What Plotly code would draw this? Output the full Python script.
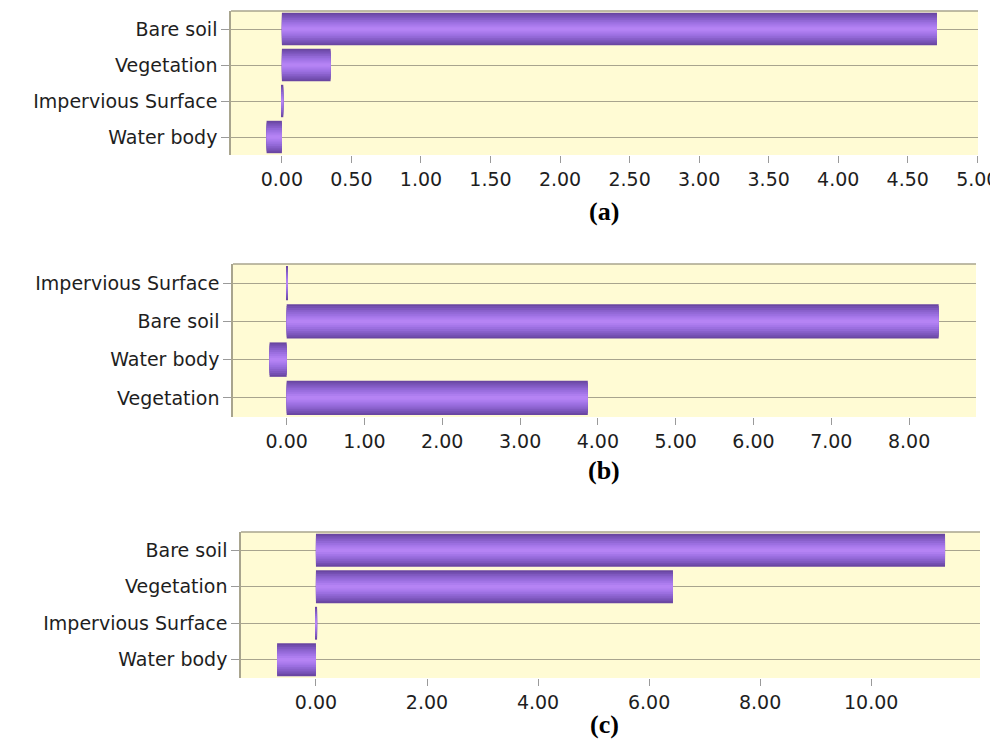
import plotly.graph_objects as go

W, H = 990, 741

# Panel (a)
cats_a = ["Bare soil", "Vegetation", "Impervious Surface", "Water body"]
vals_a = [4.71, 0.35, 0.01, -0.11]
ticks_a = [0.0, 0.5, 1.0, 1.5, 2.0, 2.5, 3.0, 3.5, 4.0, 4.5, 5.0]

# Panel (b)
cats_b = ["Impervious Surface", "Bare soil", "Water body", "Vegetation"]
vals_b = [0.01, 8.38, -0.22, 3.87]
ticks_b = [0, 1, 2, 3, 4, 5, 6, 7, 8]

# Panel (c)
cats_c = ["Bare soil", "Vegetation", "Impervious Surface", "Water body"]
vals_c = [11.33, 6.43, 0.02, -0.70]
ticks_c = [0, 2, 4, 6, 8, 10]

panel_labels = ["(a)", "(b)", "(c)"]

BG = "#FFFBD4"
GRID = "#A8A48E"
TXT = "#1E1E1E"
FONT = "DejaVu Sans"
FS = 19

# cylinder-like shading: stacked bands from dark edge to light core
bands = [(0.90, "#6A46A2"), (0.80, "#7550B2"), (0.70, "#7F58BF"),
         (0.60, "#8960CB"), (0.50, "#9268D6"), (0.40, "#9B6FE0"),
         (0.30, "#A476E8"), (0.20, "#AD7DEF"), (0.10, "#B583F4")]

# pixel boxes of each plot area: (left, right, top, bottom)
boxes = [(231, 978, 11, 155), (233, 976, 264, 417), (241, 980, 532, 678)]
xranges = [[-0.366, 5.005], [-0.69, 8.86], [-1.35, 11.96]]
label_y = [211, 470, 724]

panels = [(cats_a, vals_a, ticks_a), (cats_b, vals_b, ticks_b), (cats_c, vals_c, ticks_c)]

fig = go.Figure()
layout = {}
shapes = []
annotations = []

for i, ((cats, vals, ticks), (l, r, t, b), xr) in enumerate(zip(panels, boxes, xranges)):
    n = "" if i == 0 else str(i + 1)
    xa, ya = "x" + n, "y" + n
    for w, col in bands:
        fig.add_trace(go.Bar(
            x=vals, y=cats, orientation="h", width=w,
            marker=dict(color=col, line=dict(width=0)),
            xaxis=xa, yaxis=ya, showlegend=False, hoverinfo="x+y",
        ))
    layout["xaxis" + n] = dict(
        domain=[l / W, r / W], anchor=ya, range=xr, automargin=False,
        tickmode="array", tickvals=ticks,
        ticktext=["%.2f" % v for v in ticks],
        ticks="outside", ticklen=7, tickcolor="#9A9A9A", tickwidth=1,
        ticklabeloverflow="allow",
        showgrid=False, zeroline=False, showline=False,
        tickfont=dict(family=FONT, size=FS, color=TXT),
    )
    layout["yaxis" + n] = dict(
        domain=[1 - b / H, 1 - t / H], anchor=xa, automargin=False,
        type="category", categoryorder="array", categoryarray=cats,
        autorange=False, range=[3.5, -0.5],
        ticks="outside", ticklen=8, tickcolor="#9A9A9A", tickwidth=1,
        showgrid=True, gridcolor=GRID, gridwidth=1.2,
        showline=True, linecolor=GRID, linewidth=1.5,
        zeroline=False,
        tickfont=dict(family=FONT, size=FS, color=TXT),
    )
    # top border of the plot area
    shapes.append(dict(type="line", xref=xa + " domain", yref=ya + " domain",
                       x0=0, x1=1, y0=1, y1=1,
                       line=dict(color=GRID, width=1.5)))
    annotations.append(dict(
        text="<b>" + panel_labels[i] + "</b>", xref="paper", yref="paper",
        x=604 / W, y=1 - label_y[i] / H, xanchor="center", yanchor="middle",
        showarrow=False,
        font=dict(family="Liberation Serif", size=26, color="#000000"),
    ))

fig.update_layout(
    width=W, height=H, margin=dict(l=0, r=0, t=0, b=0, autoexpand=False),
    paper_bgcolor="white", plot_bgcolor=BG,
    barmode="overlay", bargap=0.1,
    shapes=shapes, annotations=annotations,
    **layout,
)

fig.write_html("out.html")
